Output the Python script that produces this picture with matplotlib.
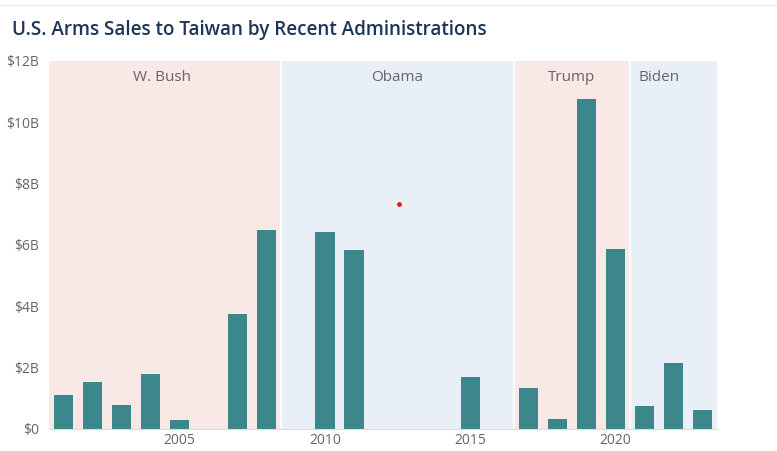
import matplotlib.pyplot as plt
import numpy as np

# arms sales to Taiwan, billions USD, by year
years = list(range(2001, 2024))
sales = [1.09, 1.54, 0.77, 1.79, 0.29, 0.0, 3.74, 6.49,
         0.0, 6.41, 5.84, 0.0, 0.0, 0.0, 1.70, 0.0,
         1.34, 0.32, 10.75, 5.88,
         0.74, 2.14, 0.61]

admins = ["W. Bush", "Obama", "Trump", "Biden"]
admin_start = [2000.5, 2008.5, 2016.5, 2020.5]
admin_end = [2008.5, 2016.5, 2020.5, 2023.5]
admin_label_x = [2004.4, 2012.5, 2018.5, 2021.5]

marker_pt = (2012.55, 7.34)

pink = "#f8e9e7"
blue = "#e8eff7"
bar_col = "#3b878c"

plt.rcParams['font.family'] = ['Open Sans', 'DejaVu Sans']

fig = plt.figure(figsize=(7.77, 4.51), dpi=100)
ax = fig.add_axes([0.063, 0.049, 0.860, 0.816])

for i, name in enumerate(admins):
    col = pink if i % 2 == 0 else blue
    ax.axvspan(admin_start[i], admin_end[i], color=col, lw=0, zorder=0)
    if i > 0:
        ax.axvline(admin_start[i], color="white", lw=1.2, zorder=1)
    ax.text(admin_label_x[i], 11.45, name, ha="center", va="center",
            fontsize=11, color="#666666", zorder=3)

ax.bar(years, sales, width=0.66, color=bar_col, zorder=2)
ax.scatter([marker_pt[0]], [marker_pt[1]], s=6, color="#e3171b", zorder=4)

ax.set_xlim(2000.5, 2023.5)
ax.set_ylim(0, 12)
ax.set_xticks([2005, 2010, 2015, 2020])
ax.set_yticks(np.arange(0, 13, 2))
ax.set_yticklabels(["$0"] + ["$%dB" % v for v in range(2, 13, 2)])
ax.tick_params(length=0, labelsize=10, colors="#666666")
ax.tick_params(axis="y", pad=7)
ax.tick_params(axis="x", pad=3)
for s in ["top", "right", "left"]:
    ax.spines[s].set_visible(False)
ax.spines["bottom"].set_color("#dddddd")

fig.text(0.015, 0.933, "U.S. Arms Sales to Taiwan by Recent Administrations",
         fontsize=13.6, fontweight="semibold", color="#1d3557", va="center")
fig.add_artist(plt.Line2D([0, 1], [0.99, 0.99], color="#eeeeee", lw=1))

fig.savefig("out.png", dpi=100)
